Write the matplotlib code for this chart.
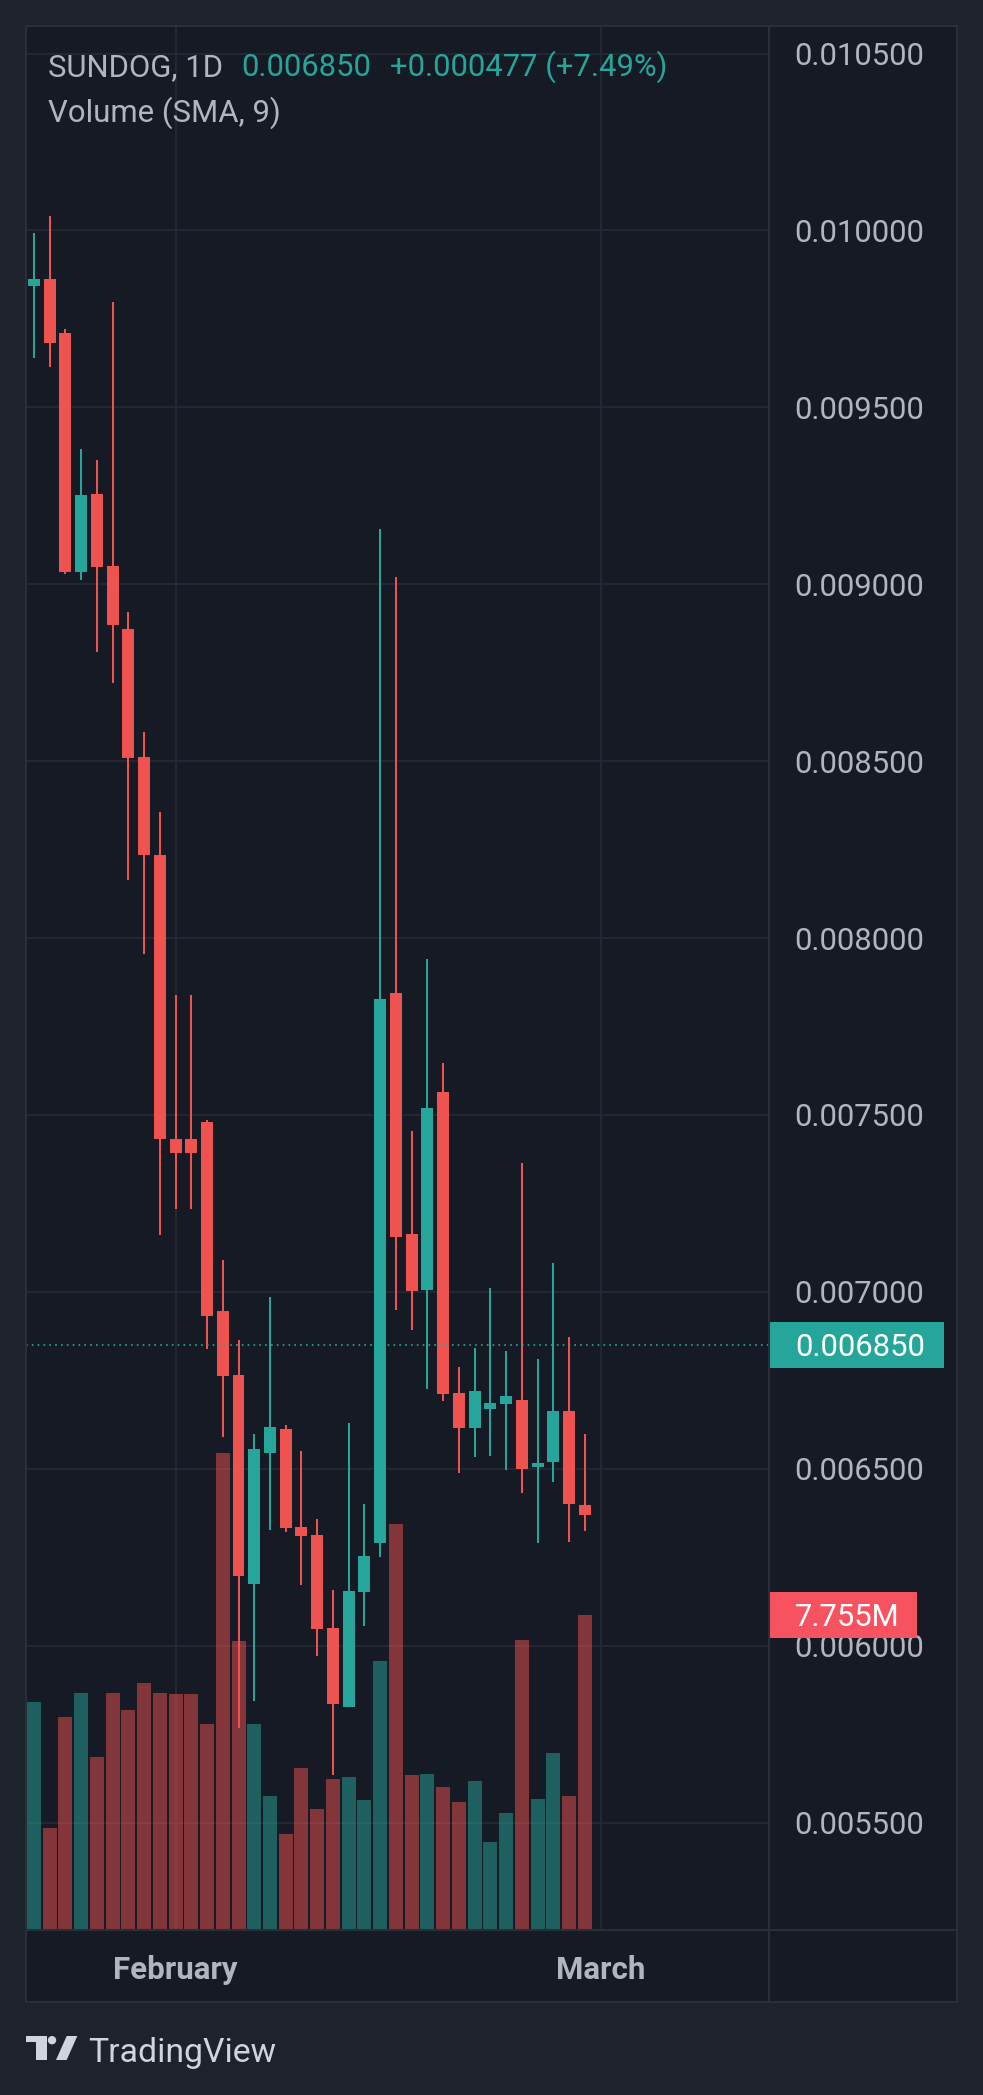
import matplotlib
matplotlib.use("Agg")
import matplotlib.pyplot as plt
from matplotlib.patches import Rectangle, Polygon, Circle
from matplotlib.lines import Line2D
from matplotlib import transforms

plt.rcParams['font.family'] = ['Roboto', 'DejaVu Sans']

# datos diarios SUNDOG (1D)
opens = [0.009844, 0.009864, 0.009709, 0.009034, 0.009254, 0.009051, 0.008875, 0.008511, 0.008236,
         0.007433, 0.007433, 0.007479, 0.006945, 0.006765, 0.006174, 0.006544, 0.006612, 0.006335,
         0.006313, 0.006050, 0.005826, 0.006152, 0.006289, 0.007844, 0.007163, 0.007005, 0.007566,
         0.006713, 0.006615, 0.006668, 0.006683, 0.006694, 0.006505, 0.006518, 0.006663, 0.006397]
highs = [0.009994, 0.010042, 0.009722, 0.009381, 0.009350, 0.009799, 0.008923, 0.008582, 0.008355,
         0.007839, 0.007839, 0.007485, 0.007089, 0.006864, 0.006598, 0.006985, 0.006624, 0.006550,
         0.006358, 0.006157, 0.006629, 0.006400, 0.009155, 0.009022, 0.007455, 0.007940, 0.007646,
         0.006787, 0.006841, 0.007010, 0.006832, 0.007364, 0.006810, 0.007081, 0.006873, 0.006598]
lows = [0.009641, 0.009615, 0.009030, 0.009011, 0.008810, 0.008720, 0.008165, 0.007956, 0.007160,
        0.007234, 0.007234, 0.006839, 0.006590, 0.005767, 0.005843, 0.006326, 0.006321, 0.006172,
        0.005971, 0.005634, 0.005826, 0.006057, 0.006250, 0.006949, 0.006892, 0.006725, 0.006691,
        0.006488, 0.006533, 0.006536, 0.006496, 0.006431, 0.006289, 0.006464, 0.006293, 0.006324]
closes = [0.009864, 0.009683, 0.009034, 0.009251, 0.009048, 0.008884, 0.008509, 0.008234, 0.007431,
          0.007392, 0.007392, 0.006931, 0.006762, 0.006196, 0.006555, 0.006618, 0.006332, 0.006310,
          0.006047, 0.005835, 0.006154, 0.006254, 0.007827, 0.007154, 0.007002, 0.007520, 0.006711,
          0.006615, 0.006719, 0.006685, 0.006705, 0.006499, 0.006516, 0.006663, 0.006400, 0.006369]
# volumen en millones
volumes = [5.62, 2.50, 5.25, 5.84, 4.26, 5.84, 5.42, 6.09, 5.84, 5.82, 5.82, 5.07, 11.75, 7.11,
           5.07, 3.31, 2.37, 4.00, 2.99, 3.71, 3.76, 3.21, 6.63, 9.99, 3.81, 3.83, 3.53, 3.14,
           3.66, 2.17, 2.89, 7.14, 3.23, 4.36, 3.29, 7.755]

price_ticks = [0.0055, 0.0060, 0.0065, 0.0070, 0.0075, 0.0080, 0.0085, 0.0090, 0.0095, 0.0100, 0.0105]
month_ticks = [9, 36]
month_labels = ['February', 'March']
last_price = 0.006850
last_volume = 7.755

# colores
verde = '#26a69a'
rojo = '#ef5350'
fondo = '#1e222d'
panel = '#161a25'
rejilla = '#252935'
borde = '#2a2e39'
texto = '#b2b5be'

W, H = 983, 2095
def fx(px):
    return px / W
def fy(py):
    return 1 - py / H

fig = plt.figure(figsize=(W / 100, H / 100), dpi=100)
fig.patch.set_facecolor(fondo)

# fondo del panel del grafico
fig.add_artist(Rectangle((fx(26), fy(2002)), fx(957) - fx(26), fy(26) - fy(2002),
                         transform=fig.transFigure, facecolor=panel, edgecolor='none', zorder=-1))

rect = [fx(26), fy(1930), fx(769) - fx(26), fy(26) - fy(1930)]
ymin, ymax = 0.0051964, 0.010578
vmax = 46.87
n = len(opens)
x = list(range(n))

# eje de rejilla y etiquetas
ax_g = fig.add_axes(rect, zorder=0)
ax_g.set_facecolor(panel)
ax_g.set_xlim(-0.5, 46.7)
ax_g.set_ylim(ymin, ymax)
ax_g.set_yticks(price_ticks)
ax_g.set_yticklabels(['%.6f' % p for p in price_ticks])
ax_g.set_xticks(month_ticks)
ax_g.set_xticklabels(month_labels)
ax_g.yaxis.tick_right()
ax_g.tick_params(axis='y', length=0, pad=18.5, labelsize=22.3, labelcolor=texto)
ax_g.tick_params(axis='x', length=0, pad=18, labelsize=22.5, labelcolor=texto)
for lab in ax_g.get_xticklabels():
    lab.set_fontweight('bold')
ax_g.grid(True, color=rejilla, linewidth=1.3)
for s in ax_g.spines.values():
    s.set_visible(False)

# volumen
ax_v = fig.add_axes(rect, zorder=1, sharex=ax_g)
ax_v.set_facecolor('none')
ax_v.set_ylim(0, vmax)
vol_cols = [verde if c >= o else rojo for o, c in zip(opens, closes)]
ax_v.bar(x, volumes, width=0.89, color=vol_cols, alpha=0.5, linewidth=0)
ax_v.axis('off')

# velas
ax_p = fig.add_axes(rect, zorder=2, sharex=ax_g, sharey=ax_g)
ax_p.set_facecolor('none')
cols = [verde if c >= o else rojo for o, c in zip(opens, closes)]
ax_p.vlines(x, lows, highs, colors=cols, linewidth=1.45)
cuerpos = [abs(c - o) for o, c in zip(opens, closes)]
bases = [min(o, c) for o, c in zip(opens, closes)]
ax_p.bar(x, cuerpos, bottom=bases, width=0.76, color=cols, linewidth=0)
ax_p.axhline(last_price, color=verde, linewidth=1.2, linestyle=(0, (1, 2.5)))
ax_p.axis('off')

# etiqueta del ultimo precio
tr_p = transforms.blended_transform_factory(fig.transFigure, ax_p.transData)
media = 22.7 * (ymax - ymin) / 1904
fig.add_artist(Rectangle((fx(769), last_price - media), fx(944) - fx(769), 2 * media,
                         transform=tr_p, facecolor=verde, edgecolor='none', zorder=3))
fig.text(fx(795), last_price, '%.6f' % last_price, transform=tr_p, color='white',
         fontsize=22.3, va='center_baseline', ha='left', zorder=4)

# etiqueta del volumen
tr_v = transforms.blended_transform_factory(fig.transFigure, ax_v.transData)
media_v = 23 * vmax / 1904
fig.add_artist(Rectangle((fx(769), last_volume - media_v), fx(917) - fx(769), 2 * media_v,
                         transform=tr_v, facecolor='#f7525f', edgecolor='none', zorder=3))
fig.text(fx(795), last_volume, '%.3fM' % last_volume, transform=tr_v, color='white',
         fontsize=22.3, va='center_baseline', ha='left', zorder=4)

# bordes
lineas = [((26, 957), (26, 26)), ((26, 957), (2002, 2002)), ((26, 26), (26, 2002)),
          ((957, 957), (26, 2002)), ((769, 769), (26, 2002)), ((26, 957), (1930, 1930))]
for xs, ys in lineas:
    fig.add_artist(Line2D([fx(xs[0]), fx(xs[1])], [fy(ys[0]), fy(ys[1])],
                          transform=fig.transFigure, color=borde, linewidth=1.5, zorder=5))

# cabecera
fig.text(fx(47.7), fy(76), 'SUNDOG, 1D', color=texto, fontsize=22.3, va='baseline')
fig.text(fx(241.7), fy(76), '0.006850', color=verde, fontsize=22.3, va='baseline')
fig.text(fx(389.8), fy(76), '+0.000477 (+7.49%)', color=verde, fontsize=22.3, va='baseline')
fig.text(fx(47.7), fy(121.7), 'Volume (SMA, 9)', color=texto, fontsize=22.4, va='baseline')

# logo TradingView
logo = '#d1d4dc'
pix = transforms.Affine2D().scale(1, -1).translate(0, H)
fig.add_artist(Polygon([(26, 2036), (46.7, 2036), (46.7, 2060), (36, 2060), (36, 2042.3), (26, 2042.3)],
                       closed=True, transform=pix, facecolor=logo, edgecolor='none'))
fig.add_artist(Circle((52, 2040.2), 4.2, transform=pix, facecolor=logo, edgecolor='none'))
fig.add_artist(Polygon([(66.7, 2036), (77.3, 2036), (66.7, 2060), (56, 2060)],
                       closed=True, transform=pix, facecolor=logo, edgecolor='none'))
fig.text(fx(88.3), fy(2062.3), 'TradingView', color=logo, fontsize=24.3, va='baseline')

fig.savefig('out.png', dpi=100, facecolor=fig.get_facecolor())
